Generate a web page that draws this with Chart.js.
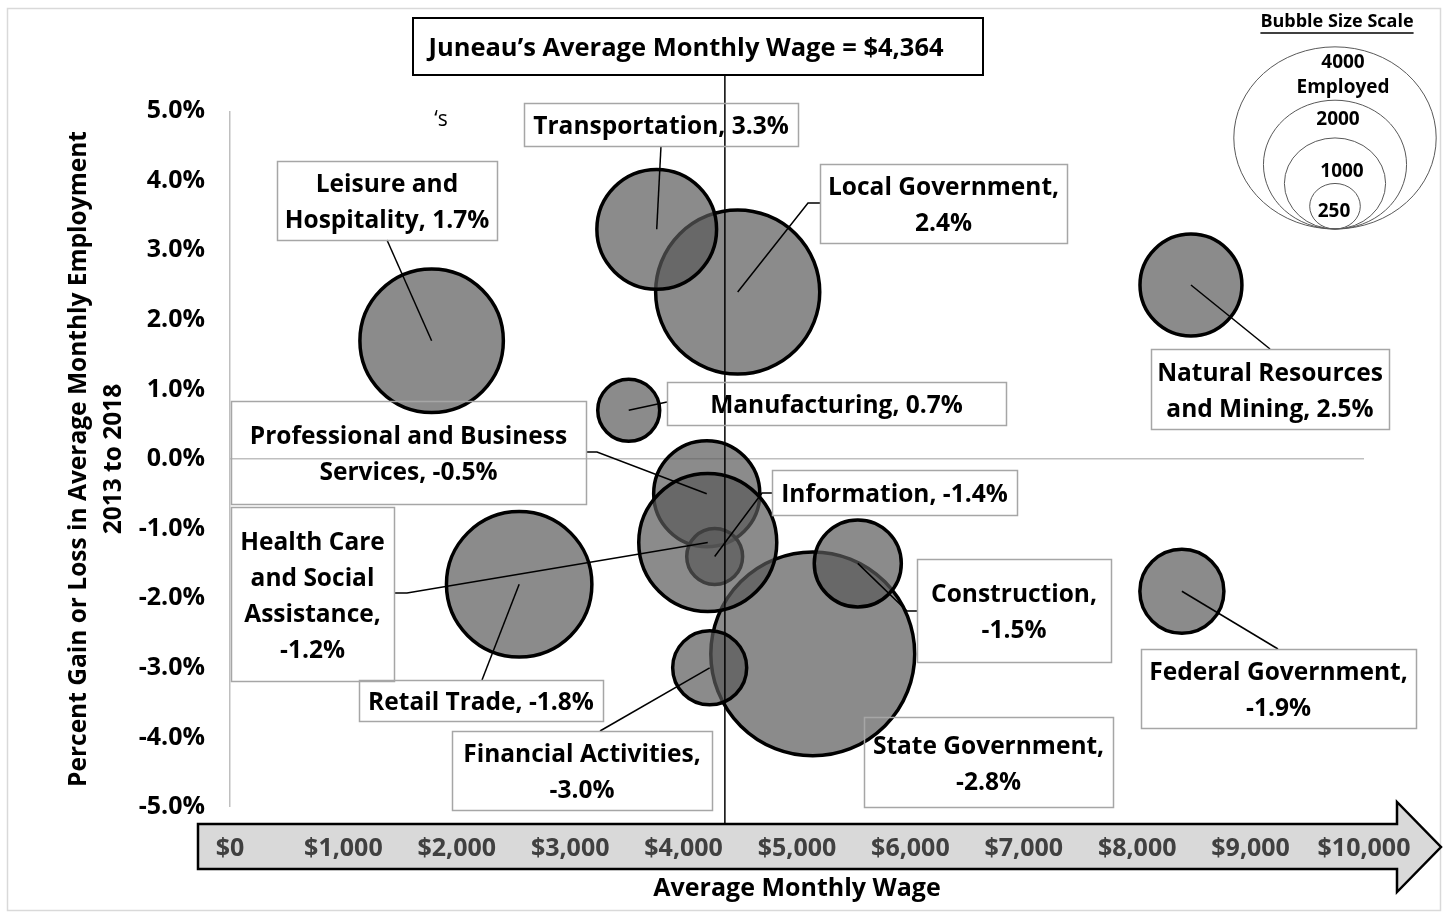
<!DOCTYPE html>
<html>
<head>
<meta charset="utf-8">
<title>Juneau Industries: Wage vs Employment Change</title>
<script src="https://cdn.jsdelivr.net/npm/chart.js@4.4.1/dist/chart.umd.min.js"></script>
<style>
  html, body { margin: 0; padding: 0; background: #fff; }
</style>
</head>
<body>
<canvas id="bubble-chart" width="1446" height="919"></canvas>
<script>
// one entry per industry, listed in drawing order
const sectors = ['Local Government', 'State Government', 'Leisure and Hospitality', 'Retail Trade',
    'Transportation', 'Professional and Business Services', 'Information',
    'Health Care and Social Assistance', 'Construction', 'Financial Activities',
    'Natural Resources and Mining', 'Federal Government', 'Manufacturing'];
const wages    = [4477, 5139, 1778, 2550, 3763, 4204, 4274, 4213, 5536, 4230, 8474, 8394, 3516];
const changes  = [2.4, -2.8, 1.7, -1.8, 3.3, -0.5, -1.4, -1.2, -1.5, -3.0, 2.5, -1.9, 0.7];
const employed = [2630, 4060, 2010, 2065, 1400, 1100, 305, 1860, 740, 535, 1015, 690, 375];

const wageTicks = [0, 1000, 2000, 3000, 4000, 5000, 6000, 7000, 8000, 9000, 10000];
const changeTicks = [-5, -4, -3, -2, -1, 0, 1, 2, 3, 4, 5];
const juneauWage = 4364;
const scaleSizes = [4000, 2000, 1000, 250];

const FONT = '"Open Sans"';

// bubble area follows head count
function bubbleRadius(n) {
    return 1.6 * Math.sqrt(n);
}

function fmt_pct(v) {
    return v.toFixed(1) + '%';
}

// label boxes: text lines ({v} = the change), box rect, leader path toward the bubble
const labelLayout = [
    { lines: ['Local Government,', '{v}'], box: [820, 164, 1067, 243], leader: [[820, 203], [808, 203]] },
    { lines: ['State Government,', '{v}'], box: [864, 717, 1113, 807], leader: [] },
    { lines: ['Leisure and', 'Hospitality, {v}'], box: [277, 161, 497, 240], leader: [[387, 240]] },
    { lines: ['Retail Trade, {v}'], box: [359, 680, 603, 721], leader: [[482, 680]] },
    { lines: ['Transportation, {v}'], box: [524, 103, 798, 146], leader: [[661, 146]] },
    { lines: ['Professional and Business', 'Services, {v}'], box: [231, 401, 586, 504], leader: [[586, 452], [597, 452]] },
    { lines: ['Information, {v}'], box: [772, 470, 1017, 515], leader: [[772, 493], [762, 493]] },
    { lines: ['Health Care', 'and Social', 'Assistance,', '{v}'], box: [231, 507, 394, 681], leader: [[394, 593], [407, 593]] },
    { lines: ['Construction,', '{v}'], box: [917, 559, 1111, 662], leader: [[917, 611], [907, 611]] },
    { lines: ['Financial Activities,', '{v}'], box: [452, 731, 712, 810], leader: [[600, 731]] },
    { lines: ['Natural Resources', 'and Mining, {v}'], box: [1151, 349, 1389, 429], leader: [[1270, 349]] },
    { lines: ['Federal Government,', '{v}'], box: [1141, 649, 1416, 728], leader: [[1278, 649]] },
    { lines: ['Manufacturing, {v}'], box: [667, 382, 1006, 425], leader: [[667, 402]] }
];

const overlay = {
    id: 'overlay',
    beforeDraw(chart) {
        const ctx = chart.ctx;
        ctx.save();
        ctx.fillStyle = '#fff';
        ctx.fillRect(0, 0, chart.width, chart.height);
        ctx.strokeStyle = '#d9d9d9';
        ctx.lineWidth = 1.5;
        ctx.strokeRect(7.5, 8.5, 1433, 902);

        // wage axis drawn as a big arrow under the tick labels
        ctx.beginPath();
        ctx.moveTo(198, 824);
        ctx.lineTo(1397, 824);
        ctx.lineTo(1397, 802);
        ctx.lineTo(1441, 847);
        ctx.lineTo(1397, 892);
        ctx.lineTo(1397, 869);
        ctx.lineTo(198, 869);
        ctx.closePath();
        ctx.fillStyle = '#d9d9d9';
        ctx.fill();
        ctx.strokeStyle = '#000';
        ctx.lineWidth = 2.5;
        ctx.stroke();
        ctx.restore();
    },
    afterDatasetsDraw(chart) {
        const ctx = chart.ctx;
        const x = chart.scales.x;
        const meta = chart.getDatasetMeta(0);
        ctx.save();

        // Juneau average wage marker
        const jx = x.getPixelForValue(juneauWage);
        ctx.strokeStyle = '#000';
        ctx.lineWidth = 1.5;
        ctx.beginPath();
        ctx.moveTo(jx, 76);
        ctx.lineTo(jx, 824);
        ctx.stroke();

        // leaders
        labelLayout.forEach((lab, i) => {
            if (!lab.leader.length) return;
            const el = meta.data[i];
            ctx.beginPath();
            ctx.moveTo(lab.leader[0][0], lab.leader[0][1]);
            lab.leader.slice(1).forEach(p => ctx.lineTo(p[0], p[1]));
            ctx.lineTo(el.x, el.y);
            ctx.strokeStyle = '#000';
            ctx.lineWidth = 1.5;
            ctx.stroke();
        });

        // label boxes
        ctx.textAlign = 'center';
        ctx.textBaseline = 'middle';
        ctx.font = 'bold 24.5px ' + FONT;
        labelLayout.forEach((lab, i) => {
            const [x1, y1, x2, y2] = lab.box;
            ctx.strokeStyle = '#a6a6a6';
            ctx.lineWidth = 1.5;
            ctx.strokeRect(x1 + 0.5, y1 + 0.5, x2 - x1, y2 - y1);
            ctx.fillStyle = '#000';
            const cx = (x1 + x2) / 2;
            const top = (y1 + y2) / 2 + 3 - (lab.lines.length - 1) * 18;
            lab.lines.forEach((line, k) => {
                ctx.fillText(line.replace('{v}', fmt_pct(changes[i])), cx, top + k * 36);
            });
        });

        // Juneau box
        ctx.strokeStyle = '#000';
        ctx.lineWidth = 2;
        ctx.strokeRect(413, 18, 570, 57);
        ctx.fillStyle = '#000';
        ctx.font = 'bold 25.5px ' + FONT;
        ctx.fillText('Juneau\u2019s Average Monthly Wage = $' + juneauWage.toLocaleString('en-US'), 686, 49);

        ctx.font = '21px ' + FONT;
        ctx.fillText('\u2018s', 441, 120);

        // bubble size key
        ctx.strokeStyle = '#595959';
        ctx.lineWidth = 1;
        scaleSizes.forEach(n => {
            const rx = bubbleRadius(n);
            const ry = rx * 0.9;
            ctx.beginPath();
            ctx.ellipse(1335, 229 - ry, rx, ry, 0, 0, Math.PI * 2);
            ctx.stroke();
        });
        ctx.font = 'bold 18px ' + FONT;
        ctx.fillText('Bubble Size Scale', 1337, 22);
        const tw = ctx.measureText('Bubble Size Scale').width;
        ctx.beginPath();
        ctx.moveTo(1337 - tw / 2, 33);
        ctx.lineTo(1337 + tw / 2, 33);
        ctx.strokeStyle = '#000';
        ctx.lineWidth = 1.5;
        ctx.stroke();
        ctx.font = 'bold 19px ' + FONT;
        ctx.fillText(String(scaleSizes[0]), 1343, 63);
        ctx.fillText('Employed', 1343, 88);
        ctx.fillText(String(scaleSizes[1]), 1338, 120);
        ctx.fillText(String(scaleSizes[2]), 1342, 172);
        ctx.fillText(String(scaleSizes[3]), 1334, 212);

        ctx.restore();
    }
};

function zero_line(c) {
    return c.tick && c.tick.value === 0 ? '#bfbfbf' : 'rgba(0,0,0,0)';
}

new Chart(document.getElementById('bubble-chart'), {
    type: 'bubble',
    data: {
        labels: sectors,
        datasets: [{
            label: 'Employed',
            data: wages.map((w, i) => ({ x: w, y: changes[i], r: bubbleRadius(employed[i]) })),
            backgroundColor: 'rgba(90,90,90,0.7)',
            borderColor: '#000',
            borderWidth: 3.5,
            clip: false
        }]
    },
    options: {
        responsive: false,
        animation: false,
        devicePixelRatio: 1,
        layout: { autoPadding: false, padding: { top: 111, right: 82, left: 0, bottom: 0 } },
        plugins: {
            legend: { display: false },
            tooltip: { enabled: false }
        },
        scales: {
            x: {
                type: 'linear',
                min: 0,
                max: 10000,
                afterFit: s => {
                    s.height = 112;
                    s.paddingLeft = 0;
                    s.paddingRight = 0;
                },
                afterBuildTicks: s => { s.ticks = wageTicks.map(v => ({ value: v })); },
                ticks: {
                    autoSkip: false,
                    maxRotation: 0,
                    padding: 27,
                    color: '#404040',
                    font: { family: FONT, size: 25, weight: 'bold' },
                    callback: v => '$' + v.toLocaleString('en-US')
                },
                grid: { drawTicks: false, color: zero_line, lineWidth: 1.5 },
                border: { display: false },
                title: {
                    display: true,
                    text: 'Average Monthly Wage',
                    color: '#000',
                    font: { family: FONT, size: 25, weight: 'bold' },
                    padding: { top: 0, bottom: 15 }
                }
            },
            y: {
                type: 'linear',
                min: -5,
                max: 5,
                afterFit: s => {
                    s.width = 230;
                    s.paddingTop = 0;
                    s.paddingBottom = 0;
                },
                afterBuildTicks: s => { s.ticks = changeTicks.map(v => ({ value: v })); },
                ticks: {
                    padding: 25,
                    color: '#000',
                    font: { family: FONT, size: 25, weight: 'bold' },
                    callback: v => fmt_pct(v)
                },
                grid: { drawTicks: false, color: zero_line, lineWidth: 1.5 },
                border: { display: false },
                title: {
                    display: true,
                    text: ['Percent Gain or Loss in Average Monthly Employment', '2013 to 2018'],
                    color: '#000',
                    font: { family: FONT, size: 24.5, weight: 'bold', lineHeight: 1.43 },
                    padding: { top: 61, bottom: 0 }
                }
            }
        }
    },
    plugins: [overlay]
});
</script>
</body>
</html>
